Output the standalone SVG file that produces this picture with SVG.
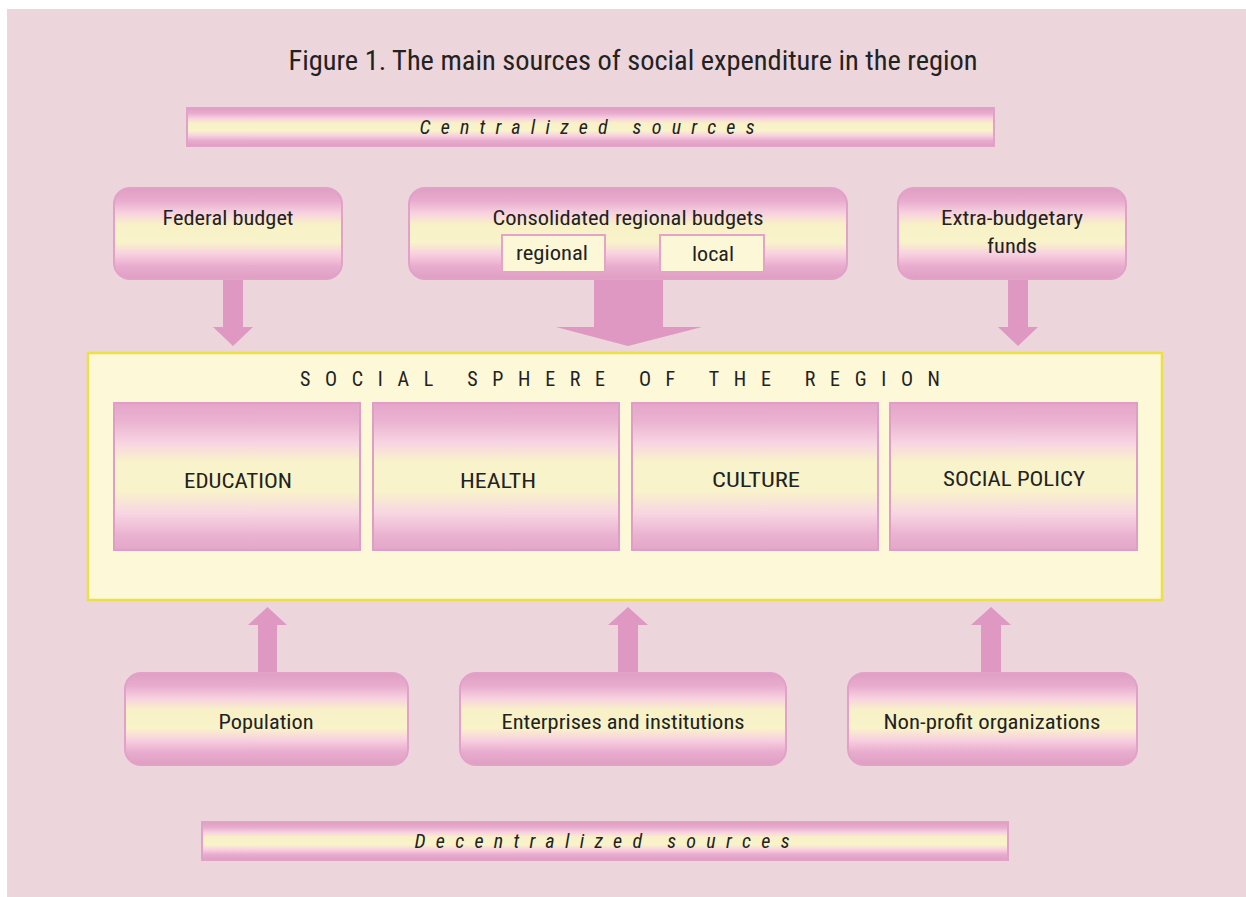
<svg xmlns="http://www.w3.org/2000/svg" width="1246" height="897" viewBox="0 0 1246 897">
<defs>
<linearGradient id="g" x1="0" y1="0" x2="0" y2="1">
<stop offset="0" stop-color="#df9ec3"/>
<stop offset="0.14" stop-color="#e8acce"/>
<stop offset="0.28" stop-color="#f8d2e0"/>
<stop offset="0.40" stop-color="#f8f1c8"/>
<stop offset="0.60" stop-color="#f8f3c9"/>
<stop offset="0.72" stop-color="#f8d2e0"/>
<stop offset="0.86" stop-color="#e8acce"/>
<stop offset="1" stop-color="#df9ec3"/>
</linearGradient>
<linearGradient id="g2" x1="0" y1="0" x2="0" y2="1">
<stop offset="0" stop-color="#e4a6c9"/>
<stop offset="0.12" stop-color="#eab2d0"/>
<stop offset="0.28" stop-color="#f8d6e2"/>
<stop offset="0.40" stop-color="#f8f3ca"/>
<stop offset="0.60" stop-color="#f8f3ca"/>
<stop offset="0.75" stop-color="#f8d6e2"/>
<stop offset="0.90" stop-color="#eab2d0"/>
<stop offset="1" stop-color="#e4a6c9"/>
</linearGradient>
</defs>
<style>
.bg{fill:#edd5dc}
.box{fill:url(#g);stroke:#e2a2c8;stroke-width:2}
.inner{fill:url(#g2);stroke:#df9ec6;stroke-width:2}
.sub{fill:#fcf7d6;stroke:#e4a4c8;stroke-width:2}
.sphere{fill:#fcf8d8;stroke:#ece046;stroke-width:2.5}
.arrow{fill:#df98c2}
text{font-family:"Liberation Sans Narrow","Roboto Condensed","Liberation Sans",Arial,sans-serif;fill:#222;text-anchor:middle}
.t{font-size:21px}
.it{font-size:20px;font-style:italic}
</style>
<rect class="bg" x="7" y="9" width="1239" height="888"/>
<text x="633" y="70" font-size="27" textLength="689" lengthAdjust="spacingAndGlyphs">Figure 1. The main sources of social expenditure in the region</text>

<g id="centralized">
<rect class="box" x="187" y="108" width="807" height="38"/>
<text class="it" x="587" y="134" textLength="335" lengthAdjust="spacing">Centralized sources</text>
</g>

<g id="federal">
<rect class="box" x="114" y="188" width="228" height="91" rx="16"/>
<text class="t" x="228" y="225" textLength="131" lengthAdjust="spacingAndGlyphs">Federal budget</text>
</g>

<g id="consolidated">
<rect class="box" x="409" y="188" width="438" height="91" rx="16"/>
<text class="t" x="628" y="225" textLength="271" lengthAdjust="spacingAndGlyphs">Consolidated regional budgets</text>
<rect class="sub" x="502" y="235" width="103" height="37"/>
<text class="t" x="552" y="260" textLength="72" lengthAdjust="spacingAndGlyphs">regional</text>
<rect class="sub" x="660" y="235" width="104" height="37"/>
<text class="t" x="713" y="261" textLength="42" lengthAdjust="spacingAndGlyphs">local</text>
</g>

<g id="extra">
<rect class="box" x="898" y="188" width="228" height="91" rx="16"/>
<text class="t" x="1012" y="225" textLength="142" lengthAdjust="spacingAndGlyphs">Extra-budgetary</text>
<text class="t" x="1012" y="253" textLength="50" lengthAdjust="spacingAndGlyphs">funds</text>
</g>

<g id="connectors">
<polygon class="arrow" points="223,280 243,280 243,327 253,327 233,346 213,327 223,327"/>
<polygon class="arrow" points="594,280 663,280 663,327 702,327 628,346 556,327 594,327"/>
<polygon class="arrow" points="1008,280 1028,280 1028,327 1038,327 1018,346 998,327 1008,327"/>
<polygon class="arrow" points="258,672 277,672 277,625 287,625 267.5,607 248,625 258,625"/>
<polygon class="arrow" points="618,672 638,672 638,625 648,625 628,607 608,625 618,625"/>
<polygon class="arrow" points="981,672 1001,672 1001,625 1011,625 991,607 971,625 981,625"/>
</g>

<g id="sphere">
<rect class="sphere" x="88" y="353" width="1074" height="247"/>
<text x="620" y="386" font-size="20" textLength="640" lengthAdjust="spacing">SOCIAL SPHERE OF THE REGION</text>
</g>

<g id="education">
<rect class="inner" x="114" y="403" width="246" height="147"/>
<text class="t" x="238" y="488" textLength="108" lengthAdjust="spacingAndGlyphs">EDUCATION</text>
</g>
<g id="health">
<rect class="inner" x="373" y="403" width="246" height="147"/>
<text class="t" x="498" y="488" textLength="76" lengthAdjust="spacingAndGlyphs">HEALTH</text>
</g>
<g id="culture">
<rect class="inner" x="632" y="403" width="246" height="147"/>
<text class="t" x="756" y="487" textLength="88" lengthAdjust="spacingAndGlyphs">CULTURE</text>
</g>
<g id="socialpolicy">
<rect class="inner" x="890" y="403" width="247" height="147"/>
<text class="t" x="1014" y="486" textLength="142" lengthAdjust="spacingAndGlyphs">SOCIAL POLICY</text>
</g>

<g id="population">
<rect class="box" x="125" y="673" width="283" height="92" rx="16"/>
<text class="t" x="266" y="729" textLength="95" lengthAdjust="spacingAndGlyphs">Population</text>
</g>
<g id="enterprises">
<rect class="box" x="460" y="673" width="326" height="92" rx="16"/>
<text class="t" x="623" y="729" textLength="243" lengthAdjust="spacingAndGlyphs">Enterprises and institutions</text>
</g>
<g id="nonprofit">
<rect class="box" x="848" y="673" width="289" height="92" rx="16"/>
<text class="t" x="992" y="729" textLength="217" lengthAdjust="spacingAndGlyphs">Non-profit organizations</text>
</g>

<g id="decentralized">
<rect class="box" x="202" y="822" width="806" height="38"/>
<text class="it" x="602" y="848" textLength="375" lengthAdjust="spacing">Decentralized sources</text>
</g>
</svg>
